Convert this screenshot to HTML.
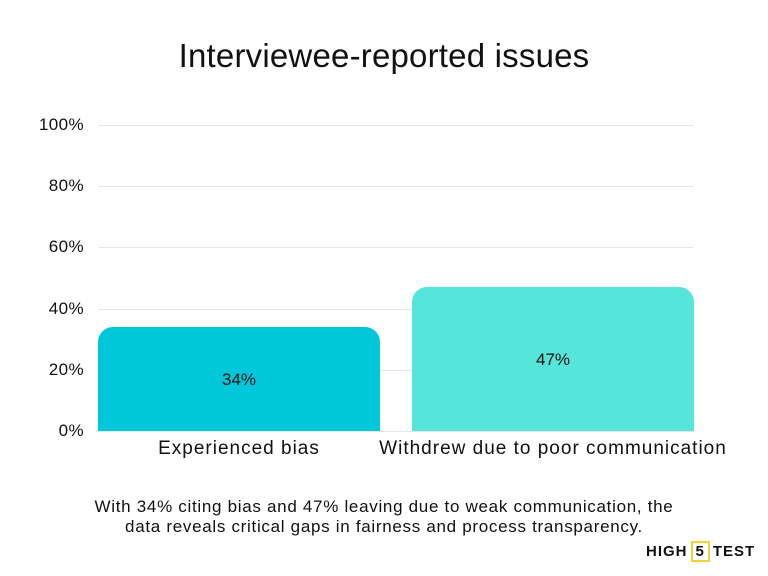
<!DOCTYPE html>
<html><head><style>
body{margin:0;width:768px;height:576px;background:#fff;font-family:"Liberation Sans",sans-serif;overflow:hidden;position:relative;color:#111}
.t{position:absolute;left:0;width:768px;text-align:center;top:37px;font-size:33px;letter-spacing:0.2px}
.y{position:absolute;right:684px;font-size:17px;letter-spacing:0.4px;text-align:right}
.g{position:absolute;left:98px;width:596px;height:1px;background:#e6e6e6}
.b{position:absolute;border-radius:15px 15px 0 0}
.v{position:absolute;font-size:17px;text-align:center;width:282px}
.x{position:absolute;top:438px;font-size:19px;text-align:center;letter-spacing:1px}
.c{position:absolute;top:497px;left:0;width:768px;text-align:center;font-size:17px;letter-spacing:0.7px;line-height:20px}
.l{position:absolute;top:543px;left:646px;font-size:15px;font-weight:bold;letter-spacing:1px}
.l span{border:2px solid #f2cf3c;padding:0 3px;margin:0 3px}
</style></head><body>
<div class="t">Interviewee-reported issues</div>
<div class="g" style="top:125px"></div><div class="g" style="top:186px"></div><div class="g" style="top:247px"></div><div class="g" style="top:309px"></div><div class="g" style="top:370px"></div><div class="g" style="top:431px"></div>
<div class="y" style="top:115px">100%</div><div class="y" style="top:176px">80%</div><div class="y" style="top:237px">60%</div><div class="y" style="top:299px">40%</div><div class="y" style="top:360px">20%</div><div class="y" style="top:421px">0%</div>
<div class="b" style="left:98px;width:282px;top:327px;height:104px;background:#00c8da"></div>
<div class="b" style="left:412px;width:282px;top:287px;height:144px;background:#55e5da"></div>
<div class="v" style="left:98px;top:370px">34%</div>
<div class="v" style="left:412px;top:350px">47%</div>
<div class="x" style="left:98px;width:282px">Experienced bias</div>
<div class="x" style="left:352px;width:402px">Withdrew due to poor communication</div>
<div class="c">With 34% citing bias and 47% leaving due to weak communication, the<br>data reveals critical gaps in fairness and process transparency.</div>
<div class="l">HIGH<span>5</span>TEST</div>
</body></html>
